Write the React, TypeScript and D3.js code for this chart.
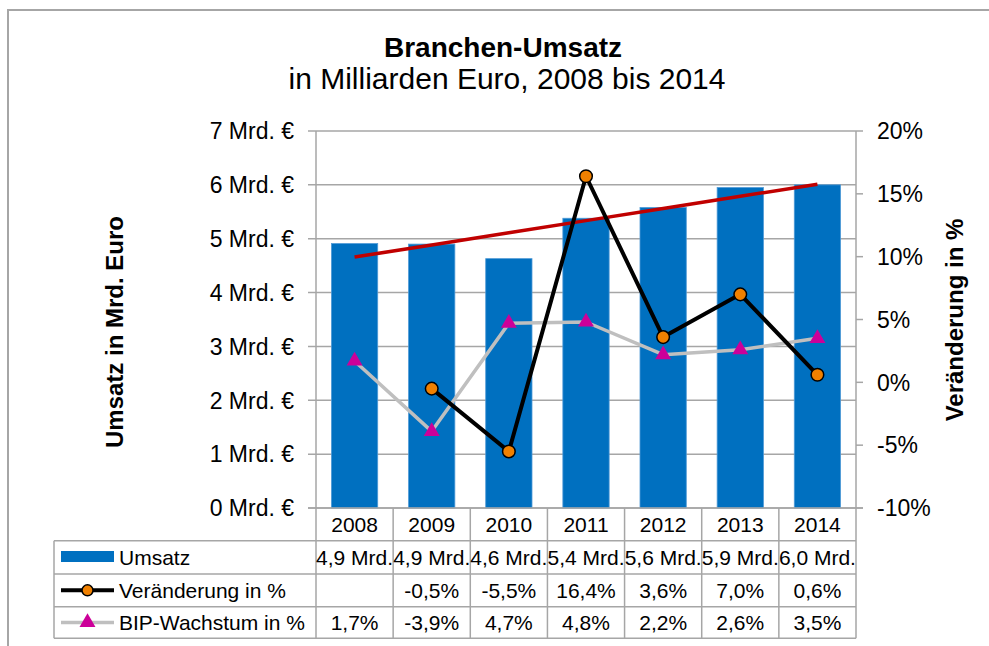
import React from 'react';
import * as d3 from 'd3';

const years = ['2008', '2009', '2010', '2011', '2012', '2013', '2014'];
const umsatz = [4.91, 4.9, 4.63, 5.38, 5.58, 5.95, 6.0];
const umsatzLabels = ['4,9 Mrd.', '4,9 Mrd.', '4,6 Mrd.', '5,4 Mrd.', '5,6 Mrd.', '5,9 Mrd.', '6,0 Mrd.'];
const veraenderung: (number | null)[] = [null, -0.5, -5.5, 16.4, 3.6, 7.0, 0.6];
const bip = [1.7, -3.9, 4.7, 4.8, 2.2, 2.6, 3.5];
const leftTicks = [0, 1, 2, 3, 4, 5, 6, 7];
const rightTicks = [-10, -5, 0, 5, 10, 15, 20];

const FONT = "'Liberation Sans', Arial, sans-serif";
const GRID = '#A6A6A6';

const de = d3.formatLocale({ decimal: ',', thousands: '.', grouping: [3], currency: ['', ' €'], minus: '-' });
const pct1 = (v: number) => de.format('.1f')(v) + '%';

export default function App() {
  const left = 316, right = 856, top = 131, bottom = 508;
  const x = d3.scaleBand<string>().domain(years).range([left, right]).paddingInner(0.4).paddingOuter(0.2);
  const step = x.step();
  const cx = (y: string) => (x(y) as number) + x.bandwidth() / 2;
  const yL = d3.scaleLinear().domain([0, 7]).range([bottom, top]);
  const yR = d3.scaleLinear().domain([-10, 20]).range([bottom, top]);

  // linear trend of Umsatz
  const idx = umsatz.map((_, i) => i);
  const mx = d3.mean(idx) as number;
  const my = d3.mean(umsatz) as number;
  const slope = d3.sum(idx.map((i) => (i - mx) * (umsatz[i] - my))) / d3.sum(idx.map((i) => (i - mx) ** 2));
  const icpt = my - slope * mx;
  const trend = idx.map((i) => icpt + slope * i);

  const lineL = d3.line<number>().x((_, i) => cx(years[i])).y((d) => yL(d));
  const veraPts = veraenderung.map((v, i) => ({ v, i })).filter((d) => d.v !== null) as { v: number; i: number }[];
  const lineV = d3.line<{ v: number; i: number }>().x((d) => cx(years[d.i])).y((d) => yR(d.v));
  const lineB = d3.line<number>().x((_, i) => cx(years[i])).y((d) => yR(d));

  const tri = d3.symbol().type(d3.symbolTriangle).size(110)() as string;

  const rowH = [508, 540.7, 574, 606.7, 638.3];
  const tableLeft = 54;
  const bounds = years.map((y) => left + years.indexOf(y) * step).concat([right]);
  const keyX0 = 61, keyX1 = 114, keyTextX = 119;

  return (
    <svg width={989} height={646} style={{ position: 'absolute', left: 0, top: 0, display: 'block', background: '#fff' }} fontFamily={FONT}>
      <rect x={8} y={10} width={1100} height={800} fill="#fff" stroke={GRID} strokeWidth={2} />
      <text x={503} y={57} textAnchor="middle" fontSize={28} fontWeight="bold" fill="#000">Branchen-Umsatz</text>
      <text x={507} y={89} textAnchor="middle" fontSize={30} fill="#000">in Milliarden Euro, 2008 bis 2014</text>

      {/* gridlines */}
      {leftTicks.map((t) => (
        <line key={'g' + t} x1={left - 8} x2={right} y1={yL(t)} y2={yL(t)} stroke={GRID} strokeWidth={1.5} />
      ))}
      <line x1={left} x2={left} y1={top} y2={bottom} stroke={GRID} strokeWidth={1.5} />
      <line x1={right} x2={right} y1={top} y2={bottom} stroke={GRID} strokeWidth={1.5} />
      {rightTicks.map((t) => (
        <line key={'rt' + t} x1={right} x2={right + 7} y1={yR(t)} y2={yR(t)} stroke={GRID} strokeWidth={1.5} />
      ))}

      {/* left tick labels */}
      {leftTicks.map((t) => (
        <text key={'lt' + t} x={294} y={yL(t)} dy="0.36em" textAnchor="end" fontSize={23} fill="#000">{t} Mrd. €</text>
      ))}
      {rightTicks.map((t) => (
        <text key={'rl' + t} x={877} y={yR(t)} dy="0.36em" textAnchor="start" fontSize={23} fill="#000">{t}%</text>
      ))}

      {/* axis titles */}
      <text transform={`translate(123,332) rotate(-90)`} textAnchor="middle" fontSize={24} fontWeight="bold" fill="#000">Umsatz in Mrd. Euro</text>
      <text transform={`translate(963,320) rotate(-90)`} textAnchor="middle" fontSize={24} fontWeight="bold" fill="#000">Veränderung in %</text>

      {/* bars */}
      {umsatz.map((v, i) => (
        <rect key={'b' + i} x={x(years[i])} y={yL(v)} width={x.bandwidth()} height={yL(0) - yL(v)} fill="#0070C0" stroke="#4F9AD6" strokeWidth={0.8} />
      ))}

      {/* trend */}
      <path d={lineL(trend) as string} fill="none" stroke="#C00000" strokeWidth={3.5} />

      {/* BIP line */}
      <path d={lineB(bip) as string} fill="none" stroke="#BFBFBF" strokeWidth={3.5} strokeLinejoin="round" />
      {/* Veränderung line */}
      <path d={lineV(veraPts) as string} fill="none" stroke="#000" strokeWidth={4} strokeLinejoin="round" />
      {bip.map((v, i) => (
        <path key={'tr' + i} d={tri} transform={`translate(${cx(years[i])},${yR(v)})`} fill="#CC0099" />
      ))}
      {veraPts.map((d) => (
        <circle key={'c' + d.i} cx={cx(years[d.i])} cy={yR(d.v)} r={6.3} fill="#F08000" stroke="#000" strokeWidth={1.5} />
      ))}

      {/* x axis line */}
      <line x1={left - 8} x2={right + 7} y1={bottom} y2={bottom} stroke={GRID} strokeWidth={1.5} />

      {/* data table */}
      {bounds.map((bx, i) => (
        <line key={'vb' + i} x1={bx} x2={bx} y1={bottom} y2={rowH[4]} stroke={GRID} strokeWidth={1.5} />
      ))}
      <line x1={tableLeft} x2={tableLeft} y1={rowH[1]} y2={rowH[4]} stroke={GRID} strokeWidth={1.5} />
      {rowH.slice(1).map((ry, i) => (
        <line key={'hr' + i} x1={tableLeft} x2={right} y1={ry} y2={ry} stroke={GRID} strokeWidth={1.5} />
      ))}
      {years.map((y) => (
        <text key={'y' + y} x={cx(y)} y={(rowH[0] + rowH[1]) / 2} dy="0.36em" textAnchor="middle" fontSize={21} fill="#000">{y}</text>
      ))}
      {umsatzLabels.map((s, i) => (
        <text key={'ul' + i} x={cx(years[i])} y={(rowH[1] + rowH[2]) / 2} dy="0.36em" textAnchor="middle" fontSize={21} fill="#000">{s}</text>
      ))}
      {veraenderung.map((v, i) =>
        v === null ? null : (
          <text key={'vl' + i} x={cx(years[i])} y={(rowH[2] + rowH[3]) / 2} dy="0.36em" textAnchor="middle" fontSize={21} fill="#000">{pct1(v)}</text>
        )
      )}
      {bip.map((v, i) => (
        <text key={'bl' + i} x={cx(years[i])} y={(rowH[3] + rowH[4]) / 2} dy="0.36em" textAnchor="middle" fontSize={21} fill="#000">{pct1(v)}</text>
      ))}

      {/* legend keys */}
      <rect x={keyX0} y={551} width={keyX1 - keyX0} height={11} fill="#0070C0" />
      <text x={keyTextX} y={(rowH[1] + rowH[2]) / 2} dy="0.36em" fontSize={21} fill="#000">Umsatz</text>
      <line x1={keyX0} x2={keyX1} y1={(rowH[2] + rowH[3]) / 2} y2={(rowH[2] + rowH[3]) / 2} stroke="#000" strokeWidth={4} />
      <circle cx={(keyX0 + keyX1) / 2} cy={(rowH[2] + rowH[3]) / 2} r={5.5} fill="#F08000" stroke="#000" strokeWidth={1.5} />
      <text x={keyTextX} y={(rowH[2] + rowH[3]) / 2} dy="0.36em" fontSize={21} fill="#000">Veränderung in %</text>
      <line x1={keyX0} x2={keyX1} y1={(rowH[3] + rowH[4]) / 2} y2={(rowH[3] + rowH[4]) / 2} stroke="#BFBFBF" strokeWidth={3.5} />
      <path d={tri} transform={`translate(${(keyX0 + keyX1) / 2},${(rowH[3] + rowH[4]) / 2})`} fill="#CC0099" />
      <text x={keyTextX} y={(rowH[3] + rowH[4]) / 2} dy="0.36em" fontSize={21} fill="#000">BIP-Wachstum in %</text>
    </svg>
  );
}
